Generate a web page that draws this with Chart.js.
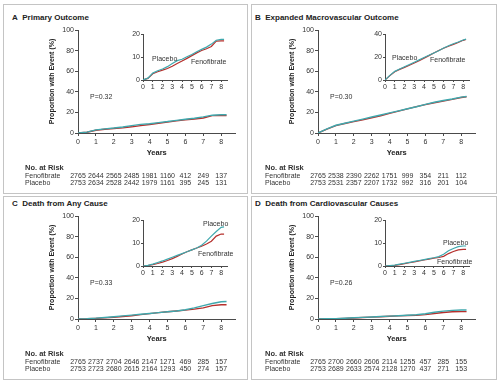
<!DOCTYPE html>
<html>
<head>
<meta charset="utf-8">
<script src="https://cdn.jsdelivr.net/npm/chart.js@4.4.0/dist/chart.umd.min.js"></script>
<style>
body { margin: 0; background: #fff; font-family: "Liberation Sans", Arial, sans-serif; }
#wrap { position: relative; width: 500px; height: 392px; overflow: hidden; background: #fff; }
.panel { position: absolute; border: 1px solid #c4c4c4; box-sizing: border-box; }
.txt { position: absolute; white-space: nowrap; line-height: 10px; color: #333; font-size: 7px; }
.ttl { font-size: 8px; font-weight: bold; color: #222; }
canvas { position: absolute; }
</style>
</head>
<body>
<div id="wrap"></div>
<script>
// follow-up years where the curves are read
const years = [0, 0.5, 1, 1.5, 2, 2.5, 3, 3.5, 4, 4.5, 5, 5.5, 6, 6.5, 7, 7.5, 8, 8.3];
const riskYears = [0, 1, 2, 3, 4, 5, 6, 7, 8];

// A - primary outcome (%)
const primaryPlacebo = [0, 0.8, 3.0, 4.0, 4.8, 5.8, 7.2, 8.4, 9.0, 10.1, 11.1, 12.3, 13.3, 14.3, 15.6, 17.3, 17.7, 17.7];
const primaryFeno = [0, 0.7, 2.7, 3.6, 4.3, 5.0, 6.0, 7.2, 8.3, 9.4, 10.6, 11.8, 12.8, 13.6, 14.6, 16.9, 17.0, 17.0];
// B - expanded macrovascular outcome (%)
const macroPlacebo = [0, 4.0, 7.5, 9.5, 11.5, 13.5, 15.5, 17.5, 19.5, 21.5, 23.5, 25.5, 27.8, 29.8, 31.5, 33.0, 34.8, 35.5];
const macroFeno = [0, 3.8, 7.2, 9.2, 11.0, 12.8, 14.8, 16.8, 19.0, 21.2, 23.4, 25.6, 27.6, 29.4, 31.0, 32.6, 34.5, 35.2];
// C - death from any cause (%)
const deathPlacebo = [0, 0.3, 0.8, 1.5, 2.2, 3.0, 3.8, 4.6, 5.4, 6.2, 7.0, 7.8, 9.0, 10.8, 13.0, 15.0, 16.8, 17.0];
const deathFeno = [0, 0.2, 0.6, 1.1, 1.7, 2.4, 3.2, 4.2, 5.2, 6.2, 7.0, 7.8, 8.6, 9.6, 10.8, 13.0, 13.9, 13.9];
// D - death from cardiovascular causes (%)
const cvPlacebo = [0, 0.2, 0.4, 0.8, 1.2, 1.6, 2.0, 2.4, 2.8, 3.2, 3.6, 4.1, 5.1, 6.6, 7.6, 8.4, 8.7, 8.7];
const cvFeno = [0, 0.15, 0.3, 0.6, 1.0, 1.4, 1.8, 2.2, 2.6, 3.0, 3.4, 3.7, 4.2, 5.4, 6.3, 7.0, 7.2, 7.2];

// number at risk
const primaryRiskFeno = [2765, 2644, 2565, 2485, 1981, 1160, 412, 249, 137];
const primaryRiskPlacebo = [2753, 2634, 2528, 2442, 1979, 1161, 395, 245, 131];
const macroRiskFeno = [2765, 2538, 2390, 2262, 1751, 999, 354, 211, 112];
const macroRiskPlacebo = [2753, 2531, 2357, 2207, 1732, 992, 316, 201, 104];
const deathRiskFeno = [2765, 2737, 2704, 2646, 2147, 1271, 469, 285, 157];
const deathRiskPlacebo = [2753, 2723, 2680, 2615, 2164, 1293, 450, 274, 157];
const cvRiskFeno = [2765, 2700, 2660, 2606, 2114, 1255, 457, 285, 155];
const cvRiskPlacebo = [2753, 2689, 2633, 2574, 2128, 1270, 437, 271, 153];

const placeboColor = '#3fa8ad';
const fenoColor = '#b5302d';
const axisColor = '#4a4a4a';
const fontFam = '"Liberation Sans", Arial, sans-serif';

const wrap = document.getElementById('wrap');

function addDiv(cls, text, left, top, w, h) {
    const d = document.createElement('div');
    d.className = cls;
    d.style.left = left + 'px';
    d.style.top = top + 'px';
    if (w) d.style.width = w + 'px';
    if (h) d.style.height = h + 'px';
    if (text) d.innerHTML = text;
    wrap.appendChild(d);
    return d;
}

function addCanvas(left, top, w, h) {
    const c = document.createElement('canvas');
    c.width = w;
    c.height = h;
    c.style.left = left + 'px';
    c.style.top = top + 'px';
    c.style.width = w + 'px';
    c.style.height = h + 'px';
    wrap.appendChild(c);
    return c;
}

function toPoints(arr) {
    return years.map((x, i) => ({ x: x, y: arr[i] }));
}

function lineSets(placebo, feno, width) {
    return [
        { label: 'Placebo', data: toPoints(placebo), borderColor: placeboColor, borderWidth: width, pointRadius: 0, tension: 0 },
        { label: 'Fenofibrate', data: toPoints(feno), borderColor: fenoColor, borderWidth: width, pointRadius: 0, tension: 0 }
    ];
}

// draws the No. at Risk rows under the x axis
function riskPlugin(feno, placebo) {
    return {
        id: 'riskTable',
        afterDraw(chart) {
            const ctx = chart.ctx;
            const x = chart.scales.x;
            ctx.save();
            ctx.fillStyle = '#333';
            ctx.textBaseline = 'middle';
            ctx.textAlign = 'left';
            ctx.font = 'bold 7.5px ' + fontFam;
            ctx.fillText('No. at Risk', 5, 144);
            ctx.font = '7px ' + fontFam;
            ctx.fillText('Fenofibrate', 5, 152);
            ctx.fillText('Placebo', 5, 159.5);
            ctx.textAlign = 'center';
            riskYears.forEach((yr, i) => {
                const px = x.getPixelForValue(yr);
                ctx.fillText(String(feno[i]), px, 152);
                ctx.fillText(String(placebo[i]), px, 159.5);
            });
            ctx.restore();
        }
    };
}

function makeMain(dx, dy, placebo, feno, riskF, riskP) {
    const c = addCanvas(20 + dx, 24 + dy, 222, 170);
    new Chart(c, {
        type: 'line',
        data: { datasets: lineSets(placebo, feno, 1.4) },
        options: {
            responsive: false,
            animation: false,
            layout: { padding: { left: 28, top: 6, right: 6.5, bottom: 37 } },
            plugins: { legend: { display: false }, tooltip: { enabled: false } },
            scales: {
                x: {
                    type: 'linear', min: 0, max: 8.8,
                    ticks: { stepSize: 1, includeBounds: false, color: '#333', padding: 2, font: { size: 7, family: fontFam } },
                    grid: { drawOnChartArea: false, tickLength: 3, color: axisColor },
                    border: { color: axisColor, width: 1 },
                    title: { display: true, text: 'Years', color: '#222', padding: 0, font: { size: 7.5, weight: 'bold', family: fontFam } },
                    afterFit(s) { s.height = 24; }
                },
                y: {
                    min: 0, max: 100,
                    ticks: { stepSize: 20, color: '#333', padding: 1, font: { size: 7, family: fontFam } },
                    grid: { drawOnChartArea: false, tickLength: 3, color: axisColor },
                    border: { color: axisColor, width: 1 },
                    title: { display: true, text: 'Proportion with Event (%)', color: '#222', padding: 0, font: { size: 7, weight: 'bold', family: fontFam } },
                    afterFit(s) { s.width = 30; }
                }
            }
        },
        plugins: [riskPlugin(riskF, riskP)]
    });
}

function makeInset(dx, dy, placebo, feno, yMax) {
    const c = addCanvas(125 + dx, 28 + dy, 108, 66);
    new Chart(c, {
        type: 'line',
        data: { datasets: lineSets(placebo, feno, 1.2) },
        options: {
            responsive: false,
            animation: false,
            layout: { padding: { top: 6, right: 6 } },
            plugins: { legend: { display: false }, tooltip: { enabled: false } },
            scales: {
                x: {
                    type: 'linear', min: 0, max: 8.6,
                    ticks: { stepSize: 1, includeBounds: false, color: '#333', padding: 1, font: { size: 7, family: fontFam } },
                    grid: { drawOnChartArea: false, tickLength: 2, color: axisColor },
                    border: { color: axisColor, width: 1 },
                    afterFit(s) { s.height = 14; }
                },
                y: {
                    min: 0, max: yMax,
                    ticks: { stepSize: yMax / 2, color: '#333', padding: 1, font: { size: 7, family: fontFam } },
                    grid: { drawOnChartArea: false, tickLength: 2, color: axisColor },
                    border: { color: axisColor, width: 1 },
                    afterFit(s) { s.width = 18; }
                }
            }
        }
    });
}

// panel frames
addDiv('panel', '', 3, 4, 245, 190);
addDiv('panel', '', 251, 4, 246, 190);
addDiv('panel', '', 3, 196, 245, 184);
addDiv('panel', '', 251, 196, 246, 184);

// panel titles
addDiv('txt ttl', 'A&nbsp;&nbsp;Primary Outcome', 12, 13);
addDiv('txt ttl', 'B&nbsp;&nbsp;Expanded Macrovascular Outcome', 255, 13);
addDiv('txt ttl', 'C&nbsp;&nbsp;Death from Any Cause', 12, 199);
addDiv('txt ttl', 'D&nbsp;&nbsp;Death from Cardiovascular Causes', 255, 199);

makeMain(0, 0, primaryPlacebo, primaryFeno, primaryRiskFeno, primaryRiskPlacebo);
makeMain(240, 0, macroPlacebo, macroFeno, macroRiskFeno, macroRiskPlacebo);
makeMain(0, 186, deathPlacebo, deathFeno, deathRiskFeno, deathRiskPlacebo);
makeMain(240, 186, cvPlacebo, cvFeno, cvRiskFeno, cvRiskPlacebo);

makeInset(0, 0, primaryPlacebo, primaryFeno, 20);
makeInset(242, 0, macroPlacebo, macroFeno, 40);
makeInset(0, 186, deathPlacebo, deathFeno, 20);
makeInset(242, 186, cvPlacebo, cvFeno, 20);

// P values
addDiv('txt', 'P=0.32', 90, 92);
addDiv('txt', 'P=0.30', 330, 92);
addDiv('txt', 'P=0.33', 90, 278);
addDiv('txt', 'P=0.26', 330, 278);

// curve labels inside the insets
addDiv('txt', 'Placebo', 152, 54);
addDiv('txt', 'Fenofibrate', 191, 57);
addDiv('txt', 'Placebo', 392, 53);
addDiv('txt', 'Fenofibrate', 430, 55);
addDiv('txt', 'Placebo', 203, 219);
addDiv('txt', 'Fenofibrate', 198, 249);
addDiv('txt', 'Placebo', 443, 238);
addDiv('txt', 'Fenofibrate', 437, 257);
</script>
</body>
</html>
